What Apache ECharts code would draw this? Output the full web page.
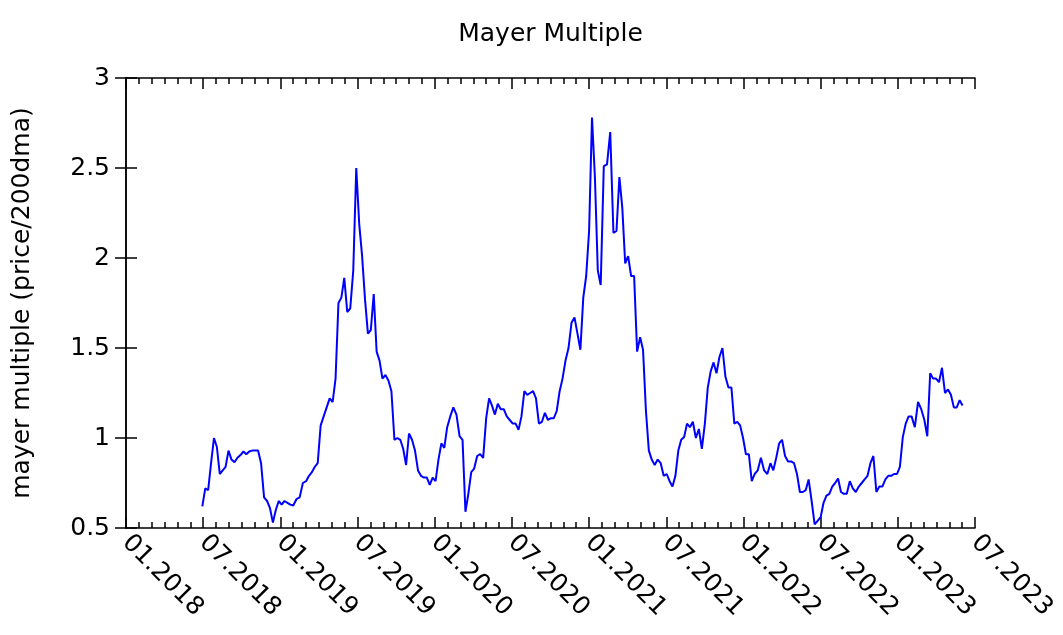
<!DOCTYPE html>
<html>
<head>
<meta charset="utf-8">
<title>Mayer Multiple</title>
<script src="https://cdn.jsdelivr.net/npm/echarts@6/dist/echarts.min.js"></script>
<style>
  html, body { margin: 0; padding: 0; background: #fff; }
  #chart { width: 1063px; height: 635px; }
</style>
</head>
<body>
<div id="chart"></div>
<script>
// weekly samples, first one on startDate
const startDate = '2018-06-29';
const stepDays = 7;

const mayerValues = [
  0.62, 0.72, 0.71, 0.86, 1.0, 0.95, 0.80, 0.82, 0.84, 0.93,
  0.88, 0.865, 0.89, 0.905, 0.925, 0.91, 0.925, 0.93, 0.93, 0.93,
  0.86, 0.67, 0.65, 0.61, 0.53, 0.60, 0.65, 0.63, 0.65, 0.64,
  0.63, 0.625, 0.66, 0.67, 0.75, 0.76,
  0.79, 0.81, 0.84, 0.86, 1.07, 1.12, 1.17, 1.22, 1.20, 1.33,
  1.75, 1.78, 1.89, 1.70, 1.72, 1.93, 2.50, 2.19, 2.01, 1.77,
  1.58, 1.60, 1.80, 1.48, 1.43, 1.33, 1.35, 1.32, 1.26, 0.99,
  1.00, 0.99, 0.94,
  0.85, 1.025, 0.99, 0.93, 0.82, 0.79, 0.78, 0.78, 0.74, 0.78,
  0.76, 0.88, 0.97, 0.945, 1.06, 1.12, 1.17, 1.13, 1.01, 0.99,
  0.59, 0.69, 0.81, 0.83, 0.90, 0.91, 0.89, 1.11, 1.22, 1.18,
  1.13, 1.19, 1.16, 1.16,
  1.12, 1.10, 1.08, 1.08, 1.045, 1.12, 1.26, 1.24, 1.25, 1.26,
  1.22, 1.08, 1.09, 1.14, 1.10, 1.11, 1.11, 1.15, 1.26, 1.33,
  1.43, 1.50, 1.64, 1.67, 1.58, 1.49, 1.78, 1.90, 2.15, 2.78,
  2.45, 1.93, 1.85, 2.51, 2.52, 2.70, 2.14, 2.15, 2.45, 2.28,
  1.97, 2.01, 1.90, 1.90, 1.48, 1.56, 1.49, 1.15, 0.93, 0.88,
  0.85, 0.88, 0.86, 0.79, 0.80, 0.76, 0.73, 0.79, 0.93, 0.99,
  1.005, 1.08, 1.06, 1.09, 1.00, 1.05, 0.94, 1.08, 1.28, 1.37,
  1.42, 1.36, 1.45, 1.50, 1.34, 1.28,
  1.28, 1.08, 1.09, 1.07, 1.00, 0.91, 0.91, 0.76, 0.80, 0.82,
  0.89, 0.82, 0.80, 0.86, 0.82, 0.89, 0.97, 0.99, 0.90, 0.87,
  0.87, 0.86, 0.80, 0.70, 0.70, 0.71, 0.77, 0.65, 0.52, 0.54,
  0.56, 0.64, 0.68, 0.69, 0.73, 0.75, 0.775, 0.70, 0.69, 0.69,
  0.76, 0.72, 0.70, 0.73, 0.75, 0.77, 0.79, 0.86, 0.90, 0.70,
  0.73, 0.73, 0.77, 0.79, 0.79, 0.80, 0.80, 0.84, 1.005, 1.08,
  1.12, 1.12, 1.06, 1.20, 1.16, 1.10, 1.01, 1.36, 1.33, 1.33,
  1.31, 1.39, 1.25, 1.27, 1.24, 1.17, 1.17, 1.21, 1.18
];

// one label every 6 months, starting 01.2018
const xTickLabels = [
  '01.2018', '07.2018', '01.2019', '07.2019', '01.2020', '07.2020',
  '01.2021', '07.2021', '01.2022', '07.2022', '01.2023', '07.2023'
];
const yTickValues = [0.5, 1, 1.5, 2, 2.5, 3];

const FONT = 'DejaVu Sans';
const FONT_SIZE = 25;
const DAY = 86400000;

// x axis runs in months since 01.2018
const toMonths = (ms) => {
  const d = new Date(ms);
  const y = d.getUTCFullYear();
  const m = d.getUTCMonth();
  const from = Date.UTC(y, m, 1);
  const to = Date.UTC(y, m + 1, 1);
  return (y - 2018) * 12 + m + (ms - from) / (to - from);
};

const t0 = Date.parse(startDate + 'T00:00:00Z');
const seriesData = mayerValues.map((v, i) => [toMonths(t0 + i * stepDays * DAY), v]);

const frameLine = { color: '#000', width: 1.5 };

const baseX = {
  type: 'value',
  min: 0,
  max: (xTickLabels.length - 1) * 6,
  interval: 6,
  axisLine: { show: true, lineStyle: frameLine },
  axisTick: { show: true, inside: true, length: 11, lineStyle: frameLine },
  minorTick: { show: true, splitNumber: 6, length: 6, lineStyle: frameLine },
  splitLine: { show: false },
  minorSplitLine: { show: false }
};

const baseY = {
  type: 'value',
  min: yTickValues[0],
  max: yTickValues[yTickValues.length - 1],
  interval: yTickValues[1] - yTickValues[0],
  axisLine: { show: true, lineStyle: frameLine },
  axisTick: { show: true, inside: true, length: 11, lineStyle: frameLine },
  splitLine: { show: false }
};

const chart = echarts.init(document.getElementById('chart'), null, { renderer: 'canvas' });

chart.setOption({
  animation: false,
  backgroundColor: '#fff',
  textStyle: { fontFamily: FONT },
  graphic: [{
    type: 'text',
    x: 550.5,
    y: 34,
    style: {
      text: 'Mayer Multiple',
      fontSize: FONT_SIZE,
      fontFamily: FONT,
      fill: '#000',
      align: 'center',
      verticalAlign: 'middle'
    }
  }],
  grid: { left: 126, right: 88, top: 78, bottom: 107, containLabel: false },
  xAxis: [
    Object.assign({}, baseX, {
      position: 'bottom',
      axisLabel: {
        show: true,
        rotate: -45,
        margin: 11,
        fontSize: FONT_SIZE,
        color: '#000',
        fontFamily: FONT,
        formatter: (v) => xTickLabels[Math.round(v / 6)]
      }
    }),
    Object.assign({}, baseX, {
      position: 'top',
      axisLabel: { show: false }
    })
  ],
  yAxis: [
    Object.assign({}, baseY, {
      position: 'left',
      name: 'mayer multiple (price/200dma)',
      nameLocation: 'middle',
      nameGap: 91,
      nameTextStyle: { fontSize: FONT_SIZE, color: '#000', fontFamily: FONT },
      axisLabel: { show: true, margin: 16, fontSize: FONT_SIZE, color: '#000', fontFamily: FONT }
    }),
    Object.assign({}, baseY, {
      position: 'right',
      axisLabel: { show: false }
    })
  ],
  series: [{
    type: 'line',
    data: seriesData,
    xAxisIndex: 0,
    yAxisIndex: 0,
    showSymbol: false,
    symbol: 'none',
    lineStyle: { color: '#0000ff', width: 2 },
    silent: true
  }]
});
</script>
</body>
</html>
